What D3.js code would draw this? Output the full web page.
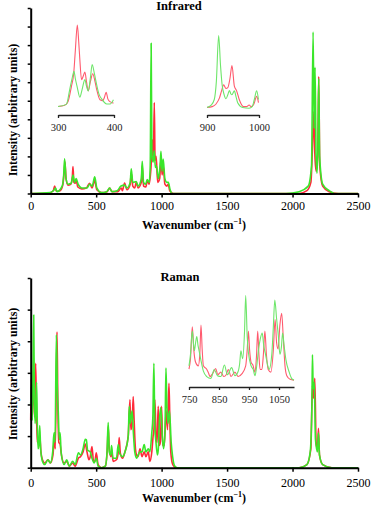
<html>
<head>
<style type="text/css">
  body { margin: 0; background: #fff; }
  text { font-family: "Liberation Serif", "Times New Roman", "DejaVu Serif", serif; }
  .spec { fill: none; stroke-linejoin: round; }
</style>
<script src="https://d3js.org/d3.v7.min.js"></script>
</head>
<body>
<script type="text/javascript">

// ---- data: [wavenumber, intensity] ----
var xTicks = [0, 500, 1000, 1500, 2000, 2500];

var irRed = [[0,0],[140,0.03],[172,0.15],[183,0.4],[195,0.12],[225,0.15],[245,0.45],[256,1.2],[262,1.7],[270,0.8],[285,0.45],[305,0.5],[318,0.9],[323,1.45],[330,0.6],[340,0.55],[348,0.7],[360,0.35],[390,0.25],[425,0.3],[450,0.55],[468,0.3],[489,0.7],[505,0.2],[540,0.05],[585,0.1],[603,0.3],[620,0.1],[665,0.1],[692,0.3],[700,0.15],[717,0.57],[735,0.2],[760,0.5],[768,1.1],[780,0.4],[795,0.3],[806,0.6],[820,0.3],[845,0.6],[852,1.5],[862,0.4],[880,0.35],[890,0.7],[905,0.5],[918,1.3],[930,2.9],[937,1.8],[944,4.9],[950,1.8],[958,2.0],[970,0.6],[985,0.8],[995,1.9],[1004,1.0],[1012,1.5],[1025,0.5],[1040,0.4],[1051,0.5],[1062,0.15],[1090,0],[2050,0],[2110,0.15],[2140,0.6],[2155,3.0],[2163,4.4],[2170,2.2],[2180,1.2],[2192,2.0],[2200,6.3],[2208,1.5],[2230,0.4],[2280,0.1],[2350,0],[2500,0]];
var irGreen = [[0,0],[150,0.05],[180,0.2],[190,0.3],[200,0.1],[240,0.4],[252,1.0],[259,1.87],[270,0.8],[285,0.5],[310,0.55],[323,1.0],[335,0.6],[348,0.8],[362,0.5],[390,0.3],[430,0.3],[450,0.5],[470,0.4],[489,0.9],[505,0.3],[540,0.05],[580,0.1],[603,0.3],[620,0.1],[660,0.15],[690,0.4],[717,0.45],[735,0.3],[760,0.6],[768,1.33],[780,0.6],[806,0.65],[820,0.4],[845,0.8],[852,1.74],[862,0.6],[878,0.5],[890,0.75],[905,0.6],[913,1.5],[920,8.1],[926,2.0],[935,1.7],[944,2.3],[952,1.4],[960,1.5],[975,0.8],[988,1.5],[995,2.27],[1003,1.2],[1012,1.86],[1025,0.8],[1040,0.6],[1051,0.6],[1065,0.2],[1080,0],[1950,0],[2050,0.1],[2120,0.4],[2145,1.5],[2157,8.7],[2165,3.5],[2172,6.8],[2180,2.0],[2187,1.1],[2195,3.0],[2200,6.2],[2207,2.0],[2230,0.5],[2280,0.15],[2320,0],[2500,0]];

var irInsetATicks = [300, 400];
var irInsetARed = [[300,0.3],[312,0.45],[318,0.9],[324,2.7],[328,4.2],[331,7.0],[334.5,10],[337,8.0],[339,5.9],[342,3.5],[345,3.9],[348,4.4],[351,3.2],[354,2.15],[358,3.3],[362,4.2],[366,3.3],[369,2.35],[375,1.1],[380,1.0],[383,1.4],[386,2.0],[389,1.2],[392,0.9],[399,0.7]];
var irInsetAGreen = [[300,0.3],[315,0.55],[321,2.35],[325,3.6],[328.6,4.5],[331,3.6],[334.5,2.55],[339,1.4],[343,2.3],[348,3.5],[351,2.7],[354,2.15],[358,3.8],[361,5.3],[365,4.2],[369,2.9],[373,1.8],[378,1.2],[387,0.6],[393,0.6],[399,1.1]];

var irInsetBTicks = [900, 1000];
var irInsetBRed = [[900,0.2],[910,0.3],[917,0.6],[924,1.4],[928,2.3],[932,3.05],[936.5,2.6],[940,2.7],[944,3.8],[948,5.5],[952.6,2.9],[957,2.3],[962,1.2],[970,0.3],[976,0.3],[981,0.5],[985,0.3],[990,0.6],[995.5,1.6],[999,0.8]];
var irInsetBGreen = [[900,0.2],[908,0.5],[914,1.2],[918,3.5],[922.4,9.3],[926,5.5],[929,3.1],[933,1.8],[936.5,1.3],[940,1.8],[943,2.35],[946,1.9],[948,1.8],[952.6,2.3],[956,1.5],[959,0.8],[968.6,0.2],[981,0.1],[987,0.3],[991,1.2],[995.5,2.3],[999,1.2]];

var ramRed = [[0,1.5],[4,2.8],[10,1.8],[16,2.4],[23,2.2],[30,1.6],[38,3.3],[44,1.8],[50,0.8],[56,0.88],[62,0.7],[70,1.0],[78,0.5],[90,0.25],[107,0.15],[132,0.25],[150,0.15],[170,0.4],[180,0.9],[188,0.6],[201,4.3],[208,1.8],[215,0.8],[224,0.75],[235,0.4],[255,0.15],[275,0.2],[295,0.05],[320,0.15],[340,0.05],[364,0.3],[380,0.35],[400,0.5],[417,0.75],[430,0.5],[445,0.25],[455,0.35],[468,0.67],[480,0.2],[490,0.2],[501,0.47],[515,0.1],[540,0],[570,0.05],[585,0.6],[592,1.3],[600,0.6],[612,0.35],[618,0.55],[630,0.2],[655,0.25],[669,0.5],[676,0.95],[685,0.45],[702,0.3],[720,0.5],[745,1.0],[758,2.15],[765,1.2],[775,1.4],[783,2.25],[790,1.5],[800,0.6],[809,0.4],[820,0.35],[835,0.6],[850,0.35],[867,0.5],[880,0.35],[898,0.5],[910,0.2],[925,0.5],[935,1.0],[941,1.2],[949,2.15],[957,1.0],[965,0.8],[974,1.94],[982,0.7],[990,0.8],[1000,1.94],[1008,0.7],[1020,0.7],[1029,1.4],[1035,1.8],[1045,1.2],[1056,2.67],[1063,1.5],[1070,0.5],[1085,0.1],[1110,0],[2050,0],[2110,0.1],[2140,0.6],[2152,2.6],[2160,2.2],[2170,2.83],[2180,0.8],[2190,0.6],[2198,1.25],[2206,0.4],[2230,0.1],[2300,0],[2500,0]];
var ramGreen = [[0,2.0],[5,2.57],[12,1.5],[18,3.2],[23,4.83],[28,2.2],[34,1.4],[40,2.0],[45,2.7],[50,1.5],[56,0.6],[62,0.7],[69,1.33],[76,0.6],[90,0.2],[107,0.1],[132,0.25],[150,0.15],[168,0.5],[178,1.1],[186,0.8],[196,4.2],[203,2.6],[211,1.73],[218,0.9],[225,1.1],[232,0.5],[255,0.1],[275,0.25],[295,0.05],[320,0.2],[340,0.1],[364,0.47],[380,0.4],[400,0.6],[417,0.9],[425,0.88],[435,0.55],[455,0.5],[468,0.3],[485,0.15],[501,0.3],[515,0.05],[540,0],[570,0.05],[583,0.5],[592,1.43],[600,0.5],[610,0.4],[618,0.7],[628,0.3],[655,0.3],[669,0.73],[680,0.45],[702,0.35],[720,0.5],[745,1.0],[753,1.94],[760,1.4],[775,1.8],[783,1.2],[795,0.5],[809,0.3],[820,0.4],[835,0.5],[850,0.5],[867,0.73],[880,0.5],[898,0.6],[910,0.5],[925,1.1],[933,1.6],[941,3.3],[948,1.3],[957,0.8],[968,0.4],[975,0.6],[982,1.4],[994,1.9],[1005,1.0],[1015,0.6],[1026,1.2],[1033,3.15],[1040,2.0],[1048,1.4],[1060,1.8],[1073,0.8],[1084,0.35],[1100,0.05],[1120,0],[2050,0],[2110,0.1],[2135,0.5],[2148,2.0],[2152,3.57],[2158,2.5],[2166,2.7],[2175,0.9],[2190,0.5],[2198,1.1],[2206,0.4],[2230,0.1],[2300,0],[2500,0]];

var ramInsetTicks = [750, 850, 950, 1050];
var ramInsetRed = [[750,1.33],[755,2.5],[761,6.1],[766,3.5],[772,2.1],[781,1.7],[786,3.0],[790,6.3],[794,3.5],[798,1.7],[809,1.33],[815,0.9],[820,0.5],[830,0.9],[839,1.4],[846,0.7],[856,1.0],[866,0.5],[874,0.7],[881,1.3],[890,0.5],[903,1.0],[914,0.5],[926,0.8],[939,1.7],[944,3.5],[948,5.6],[952,3.5],[957,2.1],[963,1.8],[970,1.0],[975,2.8],[979,5.6],[983,3.0],[987,1.3],[993,1.3],[998,3.0],[1003,5.6],[1008,3.0],[1014,1.3],[1023,1.0],[1031,3.4],[1037,6.9],[1042,4.3],[1047,3.6],[1053,6.3],[1059,7.6],[1064,5.0],[1070,1.7],[1076,0.6],[1087,0.2],[1100,0.1]];
var ramInsetGreen = [[750,1.7],[755,3.0],[761,5.6],[765,4.2],[768,3.4],[772,4.3],[776,5.0],[780,4.0],[783,3.5],[790,2.3],[798,1.1],[809,0.5],[823,0.3],[834,1.3],[845,0.6],[856,0.5],[868,1.8],[878,0.7],[892,1.5],[903,0.6],[914,1.1],[919,2.0],[923,3.4],[929,2.5],[935,5.5],[939,9.6],[944,5.0],[948,3.2],[957,1.7],[964,1.3],[970,0.6],[975,1.5],[982,3.6],[988,4.8],[994,5.4],[999,4.0],[1005,3.0],[1012,1.8],[1017,1.3],[1026,3.0],[1031,6.0],[1036,9.1],[1042,7.0],[1048,5.0],[1053,3.0],[1058,3.8],[1062,5.4],[1067,4.0],[1073,2.4],[1084,1.0],[1092,0.3],[1100,0.1]];

var RED = '#ff2a3a', GREEN = '#3ae62a';
var RED_IN = '#ff5a6e', GREEN_IN = '#6ee66a';
var SERIF = '"Liberation Serif", "Times New Roman", "DejaVu Serif", serif';

var svg = d3.select('body').append('svg')
  .attr('width', 372).attr('height', 508);

function spectrum(g, data, x, y, color, w) {
  var line = d3.line()
    .x(function(d) { return x(d[0]); })
    .y(function(d) { return y(d[1]); })
    .curve(d3.curveMonotoneX);
  g.append('path').datum(data)
    .attr('class', 'spec')
    .attr('d', line)
    .attr('stroke', color)
    .attr('stroke-width', w);
}

// main panel: spectra, axes, titles
function panel(o) {
  var x = d3.scaleLinear().domain([0, 2500]).range([30.7, 358]);
  var y = d3.scaleLinear().domain([0, o.yMax]).range([o.bottom, o.top]);
  var g = svg.append('g');

  spectrum(g, o.red, x, y, RED, 1.6);
  spectrum(g, o.green, x, y, GREEN, 1.6);

  var xa = g.append('g')
    .attr('transform', 'translate(0,' + o.bottom + ')')
    .call(d3.axisBottom(x).tickValues(xTicks).tickFormat(d3.format('d'))
      .tickSize(4).tickSizeOuter(0).tickPadding(o.pad));
  var ya = g.append('g')
    .attr('transform', 'translate(30.7,0)')
    .call(d3.axisLeft(y).tickValues(d3.range(0, o.yMax + 1)).tickSize(3).tickSizeOuter(0).tickFormat(''));
  [xa, ya].forEach(function(a) {
    a.attr('font-family', SERIF);
    a.select('.domain').attr('stroke', '#000').attr('stroke-width', 2);
    a.selectAll('.tick line').attr('stroke', '#000').attr('stroke-width', 1.5);
    a.selectAll('text').attr('font-size', 12).attr('fill', '#000');
  });

  g.append('text').text(o.title)
    .attr('x', o.titleX).attr('y', o.titleY)
    .attr('text-anchor', 'middle').attr('font-weight', 'bold').attr('font-size', 12.5);
  var xt = g.append('text')
    .attr('x', 194).attr('y', o.xtY)
    .attr('text-anchor', 'middle').attr('font-weight', 'bold').attr('font-size', 12);
  xt.append('tspan').text('Wavenumber (cm');
  xt.append('tspan').text('\u22121').attr('font-size', 8).attr('dy', -5);
  xt.append('tspan').text(')').attr('dy', 5);
  g.append('text').text('Intensity (arbitrary units)')
    .attr('transform', 'translate(17,' + o.ytY + ') rotate(-90)')
    .attr('text-anchor', 'middle').attr('font-weight', 'bold').attr('font-size', 12);
}

// small inset: zoomed spectra with a bare x axis
function inset(o) {
  var x = d3.scaleLinear().domain(o.domain).range(o.range);
  var y = d3.scaleLinear().domain([0, 10]).range(o.yRange);
  var g = svg.append('g');
  spectrum(g, o.red, x, y, RED_IN, 1.1);
  spectrum(g, o.green, x, y, GREEN_IN, 1.1);
  var a = g.append('g')
    .attr('transform', 'translate(0,' + o.axisY + ')')
    .call(d3.axisBottom(x).tickValues(o.ticks).tickFormat(d3.format('d'))
      .tickSize(3).tickSizeOuter(0).tickPadding(6));
  a.attr('font-family', SERIF);
  a.select('.domain').attr('stroke', '#222').attr('stroke-width', 1.3);
  a.selectAll('.tick line').attr('stroke', '#222').attr('stroke-width', 1.3);
  a.selectAll('text').attr('font-size', 10.5).attr('fill', '#222');
}

panel({ red: irRed, green: irGreen, yMax: 10, top: 8, bottom: 193.5, pad: 4,
        title: 'Infrared', titleX: 179, titleY: 10, xtY: 229, ytY: 110 });
inset({ red: irInsetARed, green: irInsetAGreen, domain: [300, 400], range: [58, 114],
        yRange: [109, 25], axisY: 115, ticks: irInsetATicks });
inset({ red: irInsetBRed, green: irInsetBGreen, domain: [900, 1000], range: [207, 259],
        yRange: [109, 30], axisY: 115, ticks: irInsetBTicks });

panel({ red: ramRed, green: ramGreen, yMax: 6, top: 278, bottom: 467.7, pad: 7,
        title: 'Raman', titleX: 180, titleY: 281, xtY: 502, ytY: 374 });
inset({ red: ramInsetRed, green: ramInsetGreen, domain: [750, 1100], range: [189, 294],
        yRange: [381, 292], axisY: 387, ticks: ramInsetTicks });

</script>
</body>
</html>
